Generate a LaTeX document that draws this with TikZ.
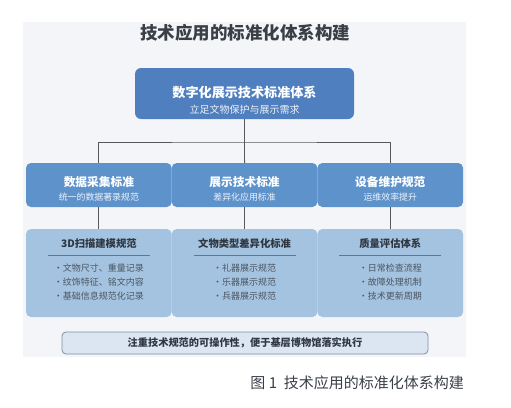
\documentclass[tikz,border=0pt]{standalone}
\usepackage{fontspec}
\setmainfont{Noto Sans CJK SC}
\usetikzlibrary{positioning}
\definecolor{panelbg}{HTML}{F3F5F9}
\definecolor{topblue}{HTML}{4F7FBF}
\definecolor{midblue}{HTML}{5E92CB}
\definecolor{lowblue}{HTML}{A3C3E0}
\definecolor{notefill}{HTML}{DCE6F2}
\definecolor{noteline}{HTML}{7F8FA6}
\definecolor{inkdark}{HTML}{2E3742}
\definecolor{inkgrey}{HTML}{3A3F47}
\tikzset{
  topbox/.style={fill=topblue, rounded corners=6pt, minimum width=219pt, minimum height=51pt, inner sep=0pt},
  midbox/.style={fill=midblue, rounded corners=5pt, minimum width=145.7pt, minimum height=44pt, inner sep=0pt},
  lowbox/.style={fill=lowblue, rounded corners=5pt, minimum width=145.7pt, minimum height=88pt, inner sep=0pt},
  notebox/.style={draw=noteline, fill=notefill, line width=0.8pt, rounded corners=4pt, minimum width=366pt, minimum height=22pt, inner sep=0pt},
  link/.style={draw=black!65, line width=0.9pt},
  rulebar/.style={draw=black!55, line width=0.7pt},
  headtext/.style={text=white, font=\bfseries\fontsize{13.1}{15}\selectfont, inner sep=0pt},
  subtext/.style={text=white!90!topblue, font=\fontsize{10}{12}\selectfont, inner sep=0pt},
  midtitle/.style={text=white, font=\bfseries\fontsize{11.7}{14}\selectfont, inner sep=0pt},
  midsub/.style={text=white!88!midblue, font=\fontsize{8.9}{10}\selectfont, inner sep=0pt},
  lowtitle/.style={text=inkdark, font=\bfseries\fontsize{10.3}{12}\selectfont, inner sep=0pt},
  bullets/.style={text=inkdark!85, font=\fontsize{9}{14}\selectfont, align=left, inner sep=0pt}
}

\begin{document}
\begin{tikzpicture}[x=1pt,y=-1pt]
  \useasboundingbox (0,0) rectangle (511,407);
  \fill[panelbg] (23,22) rectangle (466,357);

  \node[text=inkgrey, font=\bfseries\fontsize{17.5}{20}\selectfont] (title) at (245,33) {技术应用的标准化体系构建};

  % top level
  \node[topbox] (top) at (244.5,93.5) {};
  \node[headtext] (topt) at (244.5,93) {数字化展示技术标准体系};
  \node[subtext] (tops) at (244.5,109.5) {立足文物保护与展示需求};

  % second level
  \foreach \i/\cx/\ta/\tb in {1/98.85/数据采集标准/统一的数据著录规范,
                            2/244.55/展示技术标准/差异化应用标准,
                            3/390.25/设备维护规范/运维效率提升}{
    \node[midbox] (mid\i) at (\cx,185) {};
    \node[midtitle] (midt\i) at (\cx,182) {\ta};
    \node[midsub] (mids\i) at (\cx,197.5) {\tb};
  }
  \coordinate (hub) at (244.5,142);
  \draw[link] (mid1.north) |- (hub) -| (mid3.north);
  \draw[link] (top.south) -- (mid2.north);

  % third level
  \foreach \i/\cx/\ta/\tb in {1/98.85/3D扫描建模规范/{·文物尺寸、重量记录\\·纹饰特征、铭文内容\\·基础信息规范化记录},
                            2/244.55/文物类型差异化标准/{·礼器展示规范\\·乐器展示规范\\·兵器展示规范},
                            3/390.25/质量评估体系/{·日常检查流程\\·故障处理机制\\·技术更新周期}}{
    \node[lowbox] (low\i) at (\cx,273) {};
    \draw[link] (mid\i.south) -- (low\i.north);
    \node[lowtitle] (lowt\i) at (\cx,244) {\ta};
    \draw[rulebar] ([xshift=-51pt]\cx,255) coordinate (rl\i) -- ([xshift=51pt]\cx,255) coordinate (rr\i);
    \node[bullets] (lowl\i) at (\cx,282) {\tb};
  }

  % note and caption
  \node[notebox] (note) at (245,343) {};
  \node[text=inkdark, font=\bfseries\fontsize{10.2}{12}\selectfont, inner sep=0pt] (notet) at (245,343) {注重技术规范的可操作性，便于基层博物馆落实执行};
  \node[anchor=east, text=inkgrey, font=\fontsize{15}{18}\selectfont, inner sep=0pt] (caption) at (464,383) {图 1\ \ 技术应用的标准化体系构建};
\end{tikzpicture}
\end{document}
